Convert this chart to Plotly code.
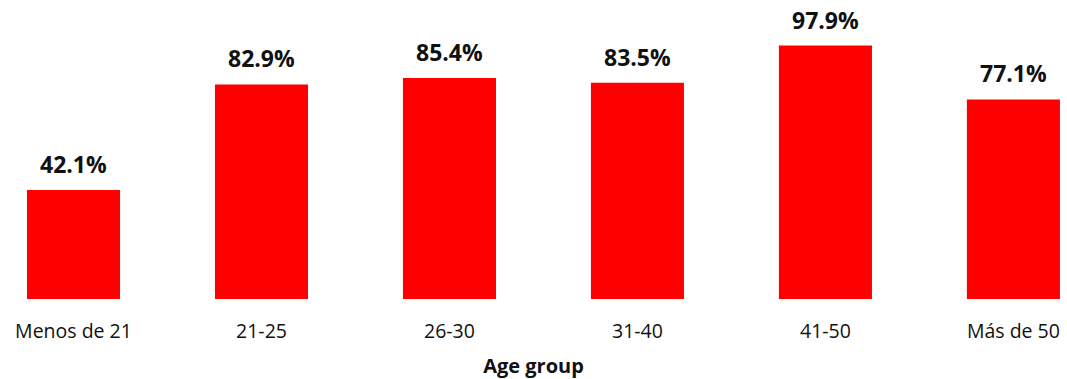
import plotly.graph_objects as go

categories = ["Menos de 21", "21-25", "26-30", "31-40", "41-50", "Más de 50"]
values = [42.1, 82.9, 85.4, 83.5, 97.9, 77.1]
labels = [f"{v:.1f}%" for v in values]

FONT = "Open Sans"

fig = go.Figure()
fig.add_trace(go.Bar(
    x=categories, y=values, width=0.495,
    marker=dict(color="#FF0000", line=dict(width=0)),
    hoverinfo="skip",
))
for c, v, t in zip(categories, values, labels):
    fig.add_annotation(x=c, y=v, text=f"<b>{t}</b>", showarrow=False,
                       yanchor="bottom", yshift=8,
                       font=dict(family=FONT, size=23, color="#111111"))

fig.update_layout(
    width=1067, height=379,
    margin=dict(l=0, r=0, t=0, b=80),
    paper_bgcolor="white", plot_bgcolor="white",
    showlegend=False,
    font=dict(family=FONT, color="#111111"),
    xaxis=dict(
        type="category", range=[-0.391, 5.285],
        showgrid=False, showline=False, zeroline=False, ticks="",
        tickfont=dict(family=FONT, size=19.5, color="#111111"),
        ticklabelstandoff=18,
        title=dict(text="<b>Age group</b>", font=dict(family=FONT, size=20, color="#111111"), standoff=16),
    ),
    yaxis=dict(range=[0, 115.5], visible=False),
)
fig.write_html("out.html")
